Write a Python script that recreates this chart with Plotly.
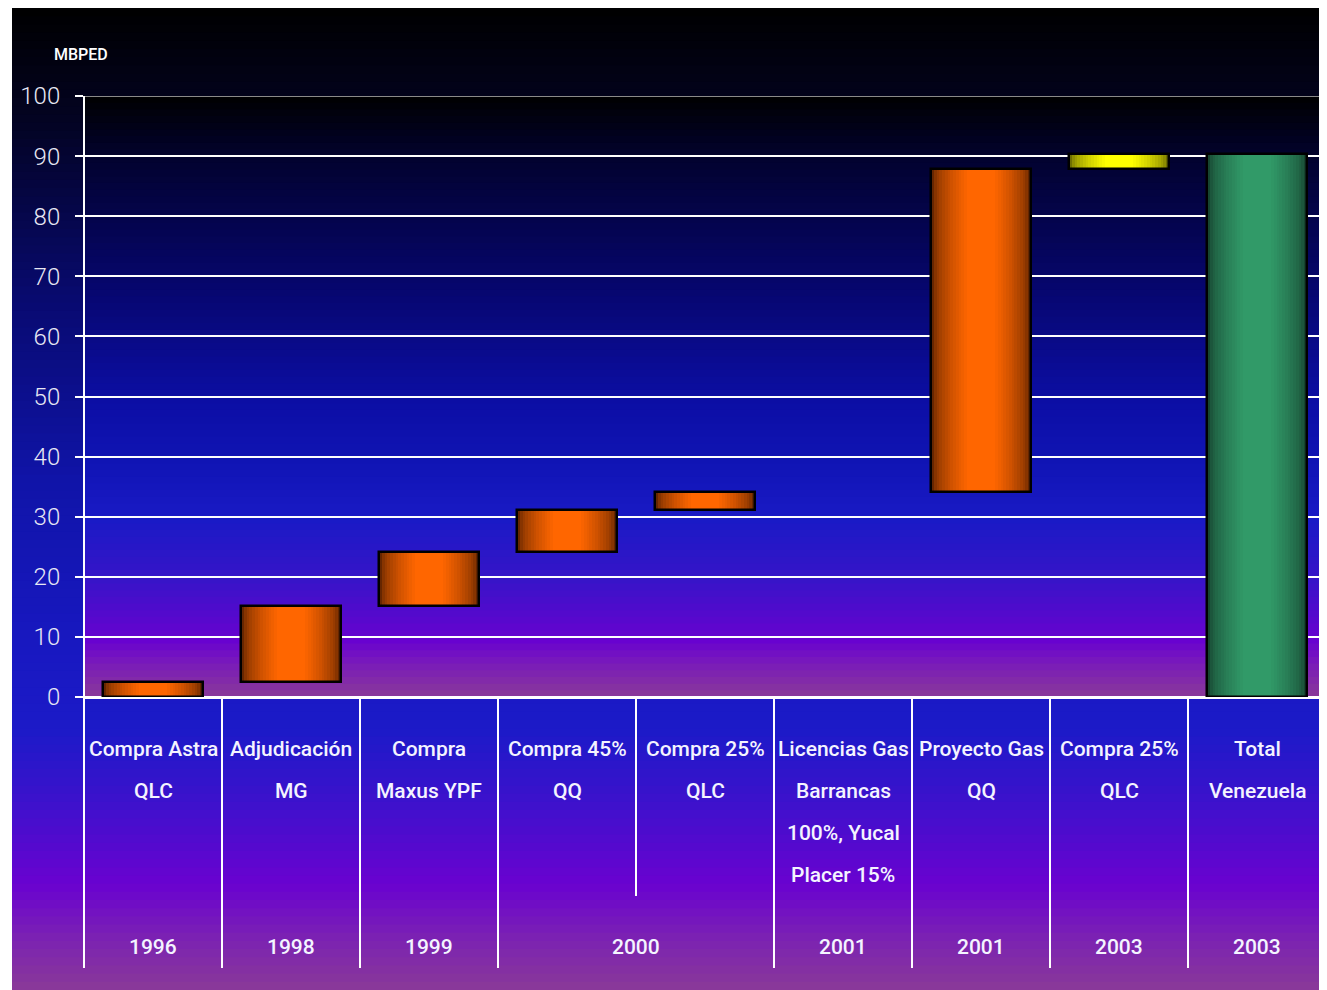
import plotly.graph_objects as go
import numpy as np

# ---------------- data ----------------
label_lines = [
    ["Compra Astra", "QLC"],
    ["Adjudicación", "MG"],
    ["Compra", "Maxus YPF"],
    ["Compra 45%", "QQ"],
    ["Compra 25%", "QLC"],
    ["Licencias Gas", "Barrancas", "100%, Yucal", "Placer 15%"],
    ["Proyecto Gas", "QQ"],
    ["Compra 25%", "QLC"],
    ["Total", "Venezuela"],
]
years = ["1996", "1998", "1999", "2000", "2000", "2001", "2001", "2003", "2003"]
increments = [2.5, 12.6, 9.0, 7.0, 3.0, 0.0, 53.7, 2.5]
total_value = 90.3
y_ticks = [0, 10, 20, 30, 40, 50, 60, 70, 80, 90, 100]
y_title = "MBPED"

# ---------------- derived ----------------
n = len(label_lines)
xs = list(range(n))
bases = list(np.concatenate([[0], np.cumsum(increments)[:-1]])) + [0.0]
heights = increments + [total_value]
kinds = ["orange"] * 7 + ["yellow", "green"]

palettes = {
    "orange": ("#662600", "#ff6600"),
    "yellow": ("#6e6e00", "#ffff00"),
    "green": ("#164430", "#319a68"),
}

def hex2rgb(h):
    h = h.lstrip("#")
    return tuple(int(h[i:i + 2], 16) for i in (0, 2, 4))

def mix(c1, c2, t):
    a, b = hex2rgb(c1), hex2rgb(c2)
    return "rgb(%d,%d,%d)" % tuple(round(a[i] + (b[i] - a[i]) * t) for i in range(3))

W = 0.725
L = 14
fig = go.Figure()
for k in range(L):
    frac = 1 - 0.72 * k / (L - 1)
    t = (k / (L - 1)) ** 0.6
    cols = [mix(palettes[kd][0], palettes[kd][1], t) for kd in kinds]
    fig.add_trace(go.Bar(
        x=xs, y=heights, base=bases, width=W * frac,
        marker=dict(color=cols, line=dict(width=0)),
        showlegend=False, hoverinfo="skip"))
# outline (none for empty bars)
fig.add_trace(go.Bar(
    x=xs, y=heights, base=bases, width=W,
    marker=dict(color="rgba(0,0,0,0)",
                line=dict(color="black", width=[2.5 if h > 0 else 0 for h in heights])),
    showlegend=False, hoverinfo="skip"))

# ---------------- geometry helpers ----------------
OFF = 8  # page offset of the figure (body margin)
WIDTH, HEIGHT = 1319, 982
ML, MR, MT, MB = 76, 1, 88, 293
PW = WIDTH - ML - MR
PH = HEIGHT - MT - MB

def px_x(px):
    return (px - OFF - ML) / PW

def px_y(py):
    return (HEIGHT - MB - (py - OFF)) / PH

shapes = []

def gradient(x0px, x1px, stops, nstrips):
    ys = [s[0] for s in stops]
    cs = [hex2rgb(s[1]) for s in stops]
    top, bot = ys[0], ys[-1]
    edges = np.linspace(top, bot, nstrips + 1)
    for i in range(nstrips):
        mid = (edges[i] + edges[i + 1]) / 2
        col = tuple(np.interp(mid, ys, [c[j] for c in cs]) for j in range(3))
        y_bot = min(edges[i + 1] + 1.5, bot)
        shapes.append(dict(type="rect", xref="paper", yref="paper",
                           x0=px_x(x0px), x1=px_x(x1px),
                           y0=px_y(edges[i]), y1=px_y(y_bot),
                           fillcolor="rgb(%d,%d,%d)" % tuple(round(v) for v in col),
                           line=dict(width=0), layer="below"))

outer_stops = [(8, "#000000"), (120, "#030322"), (300, "#080a70"),
               (480, "#1014a8"), (640, "#1818c0"), (730, "#1c1ac8"),
               (800, "#3c12cc"), (885, "#6a02d0"), (935, "#7a20b4"), (990, "#8a3a98")]
plot_stops = [(96, "#000000"), (160, "#020230"), (280, "#06066a"),
              (400, "#0c0ea4"), (460, "#1014b4"), (520, "#1a1ac6"),
              (580, "#3814c8"), (640, "#6802d0"), (665, "#7a1cb8"), (697, "#8a3a98")]
gradient(12, OFF + WIDTH, outer_stops, 120)
gradient(84, 1326, plot_stops, 90)

# top grid line grey
shapes.append(dict(type="line", xref="paper", yref="y", x0=0, x1=1, y0=100, y1=100,
                   line=dict(color="#8a8a8a", width=2), layer="above"))
# right edge line
shapes.append(dict(type="line", xref="paper", yref="paper", x0=1, x1=1,
                   y0=px_y(968), y1=1, line=dict(color="#9a9a9a", width=2), layer="above"))
# left axis line extended
shapes.append(dict(type="line", xref="paper", yref="paper", x0=0, x1=0,
                   y0=px_y(968), y1=1, line=dict(color="white", width=2), layer="above"))
# category separators below the axis
for b in range(1, n):
    bottom = 968
    if years[b] == years[b - 1] == "2000":
        bottom = 896
    shapes.append(dict(type="line", xref="x", yref="paper", x0=b - 0.5, x1=b - 0.5,
                       y0=px_y(bottom), y1=0, line=dict(color="white", width=2),
                       layer="above"))

annotations = []
FONT = "Roboto, Open Sans, sans-serif"
lab_font = dict(family=FONT, size=21, color="#f4f4ff", weight=500)
line_py = [749, 791, 833, 875]
for i, lines in enumerate(label_lines):
    for j, txt in enumerate(lines):
        annotations.append(dict(x=i, y=px_y(line_py[j]), xref="x", yref="paper",
                                text=txt, showarrow=False, xanchor="center",
                                yanchor="middle", font=lab_font))
i = 0
while i < n:
    j = i
    if years[i] == "2000":
        while j + 1 < n and years[j + 1] == years[i]:
            j += 1
    annotations.append(dict(x=(i + j) / 2, y=px_y(947), xref="x", yref="paper",
                            text=years[i], showarrow=False, xanchor="center",
                            yanchor="middle", font=lab_font))
    i = j + 1

annotations.append(dict(x=px_x(81), y=px_y(54), xref="paper", yref="paper",
                        text=y_title, showarrow=False, xanchor="center", yanchor="middle",
                        font=dict(family=FONT, size=16, color="white", weight=500)))

fig.update_layout(
    width=WIDTH, height=HEIGHT,
    margin=dict(l=ML, r=MR, t=MT, b=MB),
    paper_bgcolor="white", plot_bgcolor="rgba(0,0,0,0)",
    barmode="overlay", bargap=0,
    shapes=shapes, annotations=annotations,
    xaxis=dict(range=[-0.5, n - 0.5], showticklabels=False, showgrid=False,
               zeroline=False, showline=True, linecolor="white", linewidth=2,
               ticks=""),
    yaxis=dict(range=[0, 100], tickvals=y_ticks,
               showgrid=True, gridcolor="white",
               gridwidth=2, zeroline=True, zerolinecolor="white", zerolinewidth=2,
               showline=False, ticks="outside", ticklen=8, tickwidth=2,
               tickcolor="white", ticklabelstandoff=10,
               tickfont=dict(family=FONT, size=24, color="#e8e8f4", weight=300)),
    font=dict(family=FONT),
)

fig.write_html(
    "out.html",
    post_script="document.documentElement.style.overflow='hidden';"
                "document.body.style.overflow='hidden';",
)
